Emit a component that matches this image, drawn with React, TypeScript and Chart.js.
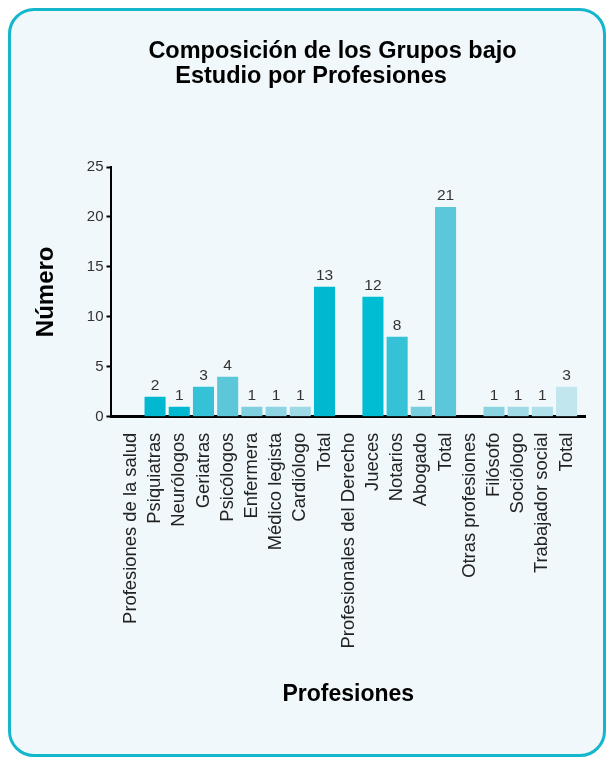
import React, { useEffect, useRef } from "react";
import { Chart, registerables, layouts } from "chart.js";

Chart.register(...registerables);

const categories: string[] = [
  "Profesiones de la salud",
  "Psiquiatras",
  "Neurólogos",
  "Geriatras",
  "Psicólogos",
  "Enfermera",
  "Médico legista",
  "Cardiólogo",
  "Total",
  "Profesionales del Derecho",
  "Jueces",
  "Notarios",
  "Abogado",
  "Total",
  "Otras profesiones",
  "Filósofo",
  "Sociólogo",
  "Trabajador social",
  "Total",
];

const values: (number | null)[] = [null, 2, 1, 3, 4, 1, 1, 1, 13, null, 12, 8, 1, 21, null, 1, 1, 1, 3];

const barColors: string[] = [
  "#00b8cf",
  "#00b8cf",
  "#00b9d1",
  "#35c1d6",
  "#5bc7d9",
  "#7fd0df",
  "#8ed5e3",
  "#9edae6",
  "#00b8cf",
  "#00bdd3",
  "#00bdd3",
  "#35c2d6",
  "#77cede",
  "#5bc7d9",
  "#8ad4e2",
  "#8ad4e2",
  "#9fdae6",
  "#b0e0ea",
  "#c1e6ee",
];

const yTicks: number[] = [0, 5, 10, 15, 20, 25];

const titleLines: string[] = ["Composición de los Grupos bajo", "Estudio por Profesiones"];
const xTitle = "Profesiones";
const yTitle = "Número";

const FONT = '"Liberation Sans", Arial, Helvetica, sans-serif';

export default function App() {
  const ref = useRef<HTMLCanvasElement>(null);

  useEffect(() => {
    const canvas = ref.current;
    if (!canvas) return;

    const valueLabels = {
      id: "valueLabels",
      afterDraw(chart: any) {
        const ctx = chart.ctx;
        const meta = chart.getDatasetMeta(0);
        ctx.save();
        ctx.font = `15.5px ${FONT}`;
        ctx.fillStyle = "#333333";
        ctx.textAlign = "center";
        ctx.textBaseline = "alphabetic";
        meta.data.forEach((el: any, i: number) => {
          const v = values[i];
          if (v === null || v === undefined) return;
          ctx.fillText(String(v), el.x, el.y - 7);
        });
        ctx.restore();
      },
    };

    // A layout box holding the two-line title (offset lines as in the original)
    const titleBoxPlugin = {
      id: "titleBox",
      start(chart: any) {
        const box: any = {
          position: "top",
          weight: 2000,
          fullSize: true,
          options: { stack: undefined, stackWeight: 1 },
          left: 0,
          top: 0,
          right: 0,
          bottom: 0,
          width: 0,
          height: 0,
          isHorizontal() {
            return true;
          },
          update(maxWidth: number) {
            this.width = maxWidth;
            this.height = 156;
            return { width: this.width, height: this.height };
          },
          draw() {
            const ctx = chart.ctx;
            const cx = this.left + this.width / 2;
            ctx.save();
            ctx.font = `bold 23.5px ${FONT}`;
            ctx.fillStyle = "#000000";
            ctx.textAlign = "center";
            ctx.textBaseline = "alphabetic";
            ctx.fillText(titleLines[0], cx + 34.5, this.top + 47);
            ctx.fillText(titleLines[1], cx + 13, this.top + 72);
            ctx.restore();
          },
        };
        layouts.addBox(chart, box);
        chart.$titleBox = box;
      },
      stop(chart: any) {
        if (chart.$titleBox) layouts.removeBox(chart, chart.$titleBox);
      },
    };

    const chart = new Chart(canvas, {
      type: "bar",
      data: {
        datasets: [
          {
            data: values.map((v, i) => ({ x: i, y: v })) as any,
            backgroundColor: barColors,
            borderWidth: 0,
            barPercentage: 0.87,
            categoryPercentage: 1,
          },
        ],
      },
      options: {
        animation: false,
        responsive: false,
        devicePixelRatio: 1,
        layout: { padding: { top: 0, right: 18, bottom: 0, left: 0 } },
        plugins: {
          legend: { display: false },
          tooltip: { enabled: false },
          title: { display: false },
        },
        scales: {
          x: {
            type: "linear",
            min: -0.8,
            max: 18.76,
            offset: false,
            z: 1,
            afterBuildTicks: (scale: any) => {
              scale.ticks = categories.map((_, i) => ({ value: i }));
            },
            ticks: {
              autoSkip: false,
              minRotation: 90,
              maxRotation: 90,
              padding: 16,
              color: "#222222",
              font: { family: FONT, size: 18.4, lineHeight: 1 },
              callback: (v: any) => categories[v as number] ?? "",
            },
            grid: { display: false, drawTicks: false, offset: false },
            border: { display: true, color: "#000000", width: 3 },
            title: {
              display: true,
              text: xTitle,
              color: "#000000",
              font: { family: FONT, size: 23, weight: "bold" },
              padding: { top: 16, bottom: 46 },
            },
          },
          y: {
            min: 0,
            max: 25,
            afterBuildTicks: (scale: any) => {
              scale.ticks = yTicks.map((v) => ({ value: v }));
            },
            ticks: {
              padding: 3,
              color: "#333333",
              font: { family: FONT, size: 15 },
            },
            grid: {
              drawOnChartArea: false,
              drawTicks: true,
              tickLength: 5,
              tickWidth: 2,
              tickColor: "#000000",
            },
            border: { display: true, color: "#000000", width: 2 },
            title: {
              display: true,
              text: yTitle,
              color: "#000000",
              font: { family: FONT, size: 24, weight: "bold" },
              padding: { top: 21, bottom: 23 },
            },
          },
        },
      },
      plugins: [titleBoxPlugin, valueLabels],
    });

    return () => chart.destroy();
  }, []);

  return (
    <div
      style={{
        position: "absolute",
        left: 8,
        top: 8,
        width: 598,
        height: 749,
        boxSizing: "border-box",
        border: "3px solid #14b6cc",
        borderRadius: 26,
        background: "#f1f8fb",
        overflow: "hidden",
      }}
    >
      <canvas ref={ref} width={592} height={743} style={{ display: "block", width: 592, height: 743 }} />
    </div>
  );
}
